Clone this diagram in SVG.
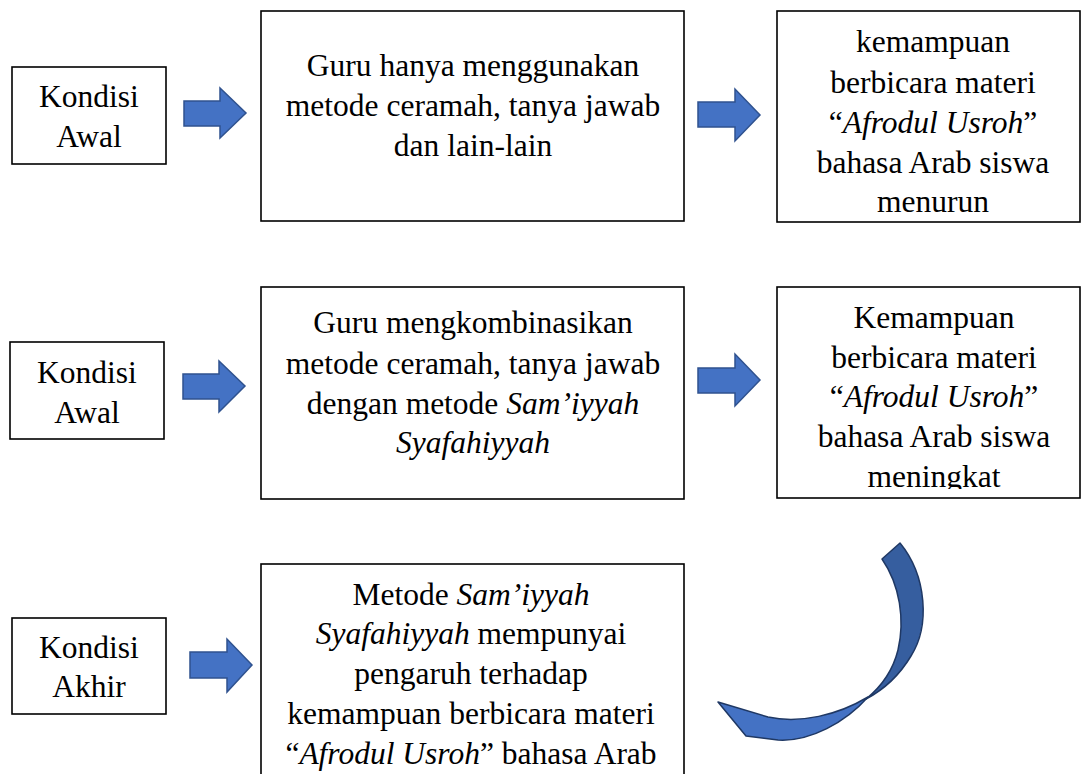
<svg xmlns="http://www.w3.org/2000/svg" width="1082" height="774" viewBox="0 0 1082 774">
<style>
.box{fill:#fff;stroke:#000;stroke-width:1.6}
.t{font-family:'Liberation Serif','Times New Roman',serif;font-size:31.5px;fill:#000;text-anchor:middle}
.i{font-style:italic}
.arr{fill:#4472C4;stroke:#2F528F;stroke-width:1.5;stroke-linejoin:miter}
</style>
<defs>
<clipPath id="c5"><rect x="777" y="287" width="303" height="202"/></clipPath>
</defs>
<rect width="1082" height="774" fill="#fff"/>

<g id="n1">
<rect class="box" x="12" y="67" width="154" height="97"/>
<text class="t"><tspan x="89" y="107">Kondisi</tspan><tspan x="89" y="147">Awal</tspan></text>
</g>
<g id="n2">
<rect class="box" x="261" y="11" width="423" height="210"/>
<text class="t"><tspan x="473" y="76">Guru hanya menggunakan</tspan><tspan x="473" y="116">metode ceramah, tanya jawab</tspan><tspan x="473" y="156">dan lain-lain</tspan></text>
</g>
<g id="n3">
<rect class="box" x="777" y="11" width="303" height="211"/>
<text class="t"><tspan x="933" y="52">kemampuan</tspan><tspan x="933" y="93">berbicara materi</tspan><tspan x="933" y="133">“<tspan class="i">Afrodul Usroh</tspan>”</tspan><tspan x="933" y="173">bahasa Arab siswa</tspan><tspan x="933" y="212">menurun</tspan></text>
</g>

<g id="n4">
<rect class="box" x="10" y="342" width="154" height="97"/>
<text class="t"><tspan x="87" y="383">Kondisi</tspan><tspan x="87" y="423">Awal</tspan></text>
</g>
<g id="n5">
<rect class="box" x="261" y="287" width="423" height="212"/>
<text class="t"><tspan x="473" y="333">Guru mengkombinasikan</tspan><tspan x="473" y="374">metode ceramah, tanya jawab</tspan><tspan x="473" y="414">dengan metode <tspan class="i">Sam’iyyah</tspan></tspan><tspan x="473" y="453" class="i">Syafahiyyah</tspan></text>
</g>
<g id="n6">
<rect class="box" x="777" y="287" width="303" height="211"/>
<text class="t" clip-path="url(#c5)"><tspan x="934" y="328">Kemampuan</tspan><tspan x="934" y="368">berbicara materi</tspan><tspan x="934" y="407">“<tspan class="i">Afrodul Usroh</tspan>”</tspan><tspan x="934" y="447">bahasa Arab siswa</tspan><tspan x="934" y="487">meningkat</tspan></text>
</g>

<g id="n7">
<rect class="box" x="12" y="618" width="154" height="96"/>
<text class="t"><tspan x="89" y="658">Kondisi</tspan><tspan x="89" y="697">Akhir</tspan></text>
</g>
<g id="n8">
<rect class="box" x="261" y="564" width="423" height="220"/>
<text class="t"><tspan x="471" y="605">Metode <tspan class="i">Sam’iyyah</tspan></tspan><tspan x="471" y="644"><tspan class="i">Syafahiyyah</tspan> mempunyai</tspan><tspan x="471" y="684">pengaruh terhadap</tspan><tspan x="471" y="724">kemampuan berbicara materi</tspan><tspan x="471" y="764">“<tspan class="i">Afrodul Usroh</tspan>” bahasa Arab</tspan></text>
</g>

<g id="connectors">
<path class="arr" d="M184,101 H220 V88 L246,113 L220,138 V126 H184 Z"/>
<path class="arr" d="M698,102 H735 V89 L760,115 L735,141 V127 H698 Z"/>
<path class="arr" d="M183,374 H219 V361 L245,386 L219,412 V399 H183 Z"/>
<path class="arr" d="M698,368 H735 V354 L760,380 L735,406 V393 H698 Z"/>
<path class="arr" d="M190,652 H227 V639 L252,665 L227,692 V678 H190 Z"/>
<path d="M900,543 C927,576 930,626 911,656 C899,676 885,689 866,699 C881,687 893,670 898,650 C905,620 900,585 882,559 Z" fill="#365E9F" stroke="#1F3864" stroke-width="1.5" stroke-linejoin="round"/>
<path d="M868,697 C846,722 810,742 778,740 L746,736 L718,702 L768,717 C800,724 838,715 868,697 Z" fill="#4472C4" stroke="#1F3864" stroke-width="1.5" stroke-linejoin="round"/>
</g>
</svg>
